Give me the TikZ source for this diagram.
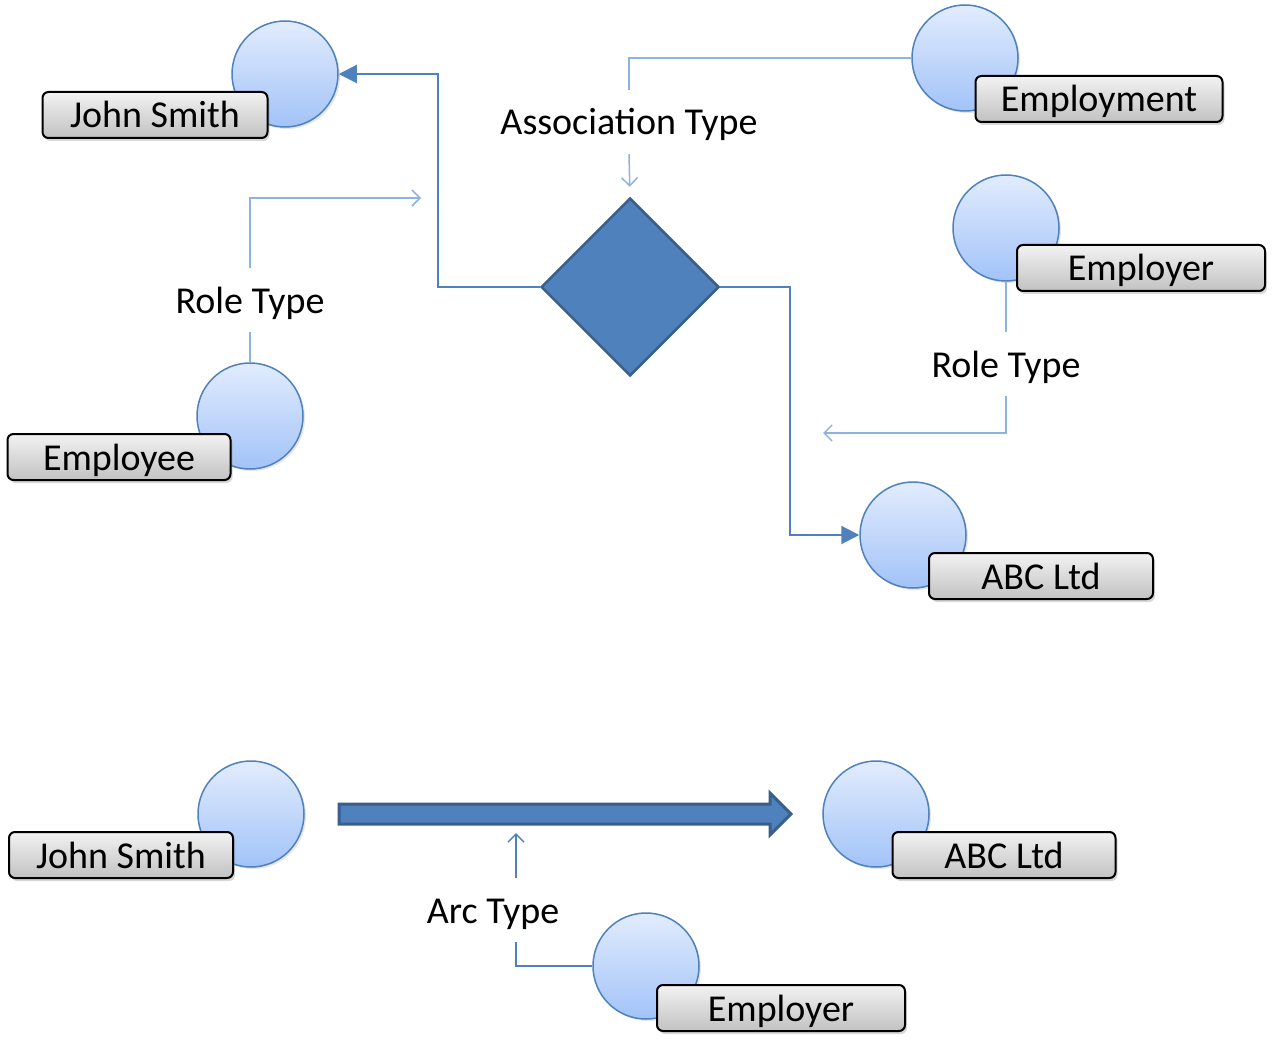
\documentclass[tikz,border=0pt]{standalone}
\usepackage{fontspec}
\setmainfont{Carlito}
\usetikzlibrary{arrows.meta,shapes.geometric,shadows}
\definecolor{tmblue}{HTML}{4F81BD}
\definecolor{tmdark}{HTML}{3A5F8B}
\definecolor{tmlight}{HTML}{8DB3E2}
\definecolor{topictop}{HTML}{E2ECFD}
\definecolor{topicbot}{HTML}{A2C3F8}
\tikzset{
  topic/.style={circle, draw=tmblue, line width=1.5pt, minimum size=106pt, inner sep=0pt,
    top color=topictop, bottom color=topicbot,
    drop shadow={shadow xshift=2pt, shadow yshift=-2pt, opacity=0.2}},
  namebox/.style={rounded corners=6pt, draw=black, line width=2pt, minimum height=46pt, inner sep=0pt,
    text height=26pt, text depth=0pt,
    top color=black!5, bottom color=black!24,
    drop shadow={shadow xshift=2pt, shadow yshift=-3pt, opacity=0.3}},
  typelabel/.style={inner sep=19pt, text height=26pt, text depth=0pt},
  mainline/.style={draw=tmblue, line width=2pt, -{Triangle[length=18pt,width=18pt]}},
  typeline/.style={draw=tmlight, line width=1.5pt},
  typearrow/.style={typeline, -{Straight Barb[length=8pt,width=16pt]}},
}
\begin{document}
\begin{tikzpicture}[x=1pt, y=-1pt, font=\fontsize{38}{42}\selectfont]
  \fill[white] (0,0) rectangle (1273,1064);
  \useasboundingbox (0,0) rectangle (1273,1064);
  % topics with their name boxes
  \foreach \id/\cx/\cy/\bx/\by/\bw/\txt in {
      js/285/74/155/115/225/John Smith,
      ety/965/58/1099/99/247/Employment,
      err/1006/228/1141/268/248/Employer,
      eee/250/416/119/457/223/Employee,
      abc/913/535/1041/576/224/ABC Ltd,
      jsb/251/814/121/855/224/John Smith,
      abcb/876/814/1004/855/223/ABC Ltd,
      errb/646/966/781/1008/248/Employer} {
    \node[topic] (c\id) at (\cx,\cy) {};
    \node[namebox, minimum width=\bw pt] (b\id) at (\bx,\by) {\txt};
  }
  % association
  \node[diamond, draw=tmdark, line width=2.5pt, fill=tmblue, minimum size=178pt, inner sep=0pt] (assoc) at (630,287) {};
  \draw[mainline] (assoc.west) -- ++(-102,0) |- (cjs.east);
  \draw[mainline] (assoc.east) -- ++(70,0) |- (cabc.west);
  % association type
  \node[typelabel] (assoctype) at (629,122) {Association Type};
  \draw[typeline] (cety.west) -| (assoctype.north);
  \draw[typearrow, shorten >=10pt] (assoctype.south) -- (assoc.north);
  % role types
  \node[typelabel] (roleL) at (250,300) {Role Type};
  \coordinate (roleLend) at (421,198);
  \draw[typeline] (ceee.north) -- (roleL.south);
  \draw[typearrow] (roleL.north) |- (roleLend);
  \node[typelabel] (roleR) at (1006,364) {Role Type};
  \coordinate (roleRend) at (823,433);
  \draw[typeline] (cerr.south) -- (roleR.north);
  \draw[typearrow] (roleR.south) |- (roleRend);
  % arc between the two topics
  \draw[draw=tmdark, line width=3pt, fill=tmblue, line join=miter]
    (339,804) -- (770,804) -- (770,793) -- (791,814) -- (770,835) -- (770,824) -- (339,824) -- cycle;
  \node[typelabel] (arctype) at (493,910) {Arc Type};
  \coordinate (arcend) at (516,833);
  \draw[draw=tmblue, line width=1.5pt] (cerrb.west) -| ([xshift=23pt]arctype.south);
  \draw[draw=tmblue, line width=1.5pt, -{Straight Barb[length=8pt,width=16pt]}] ([xshift=23pt]arctype.north) -- (arcend);
\end{tikzpicture}
\end{document}
